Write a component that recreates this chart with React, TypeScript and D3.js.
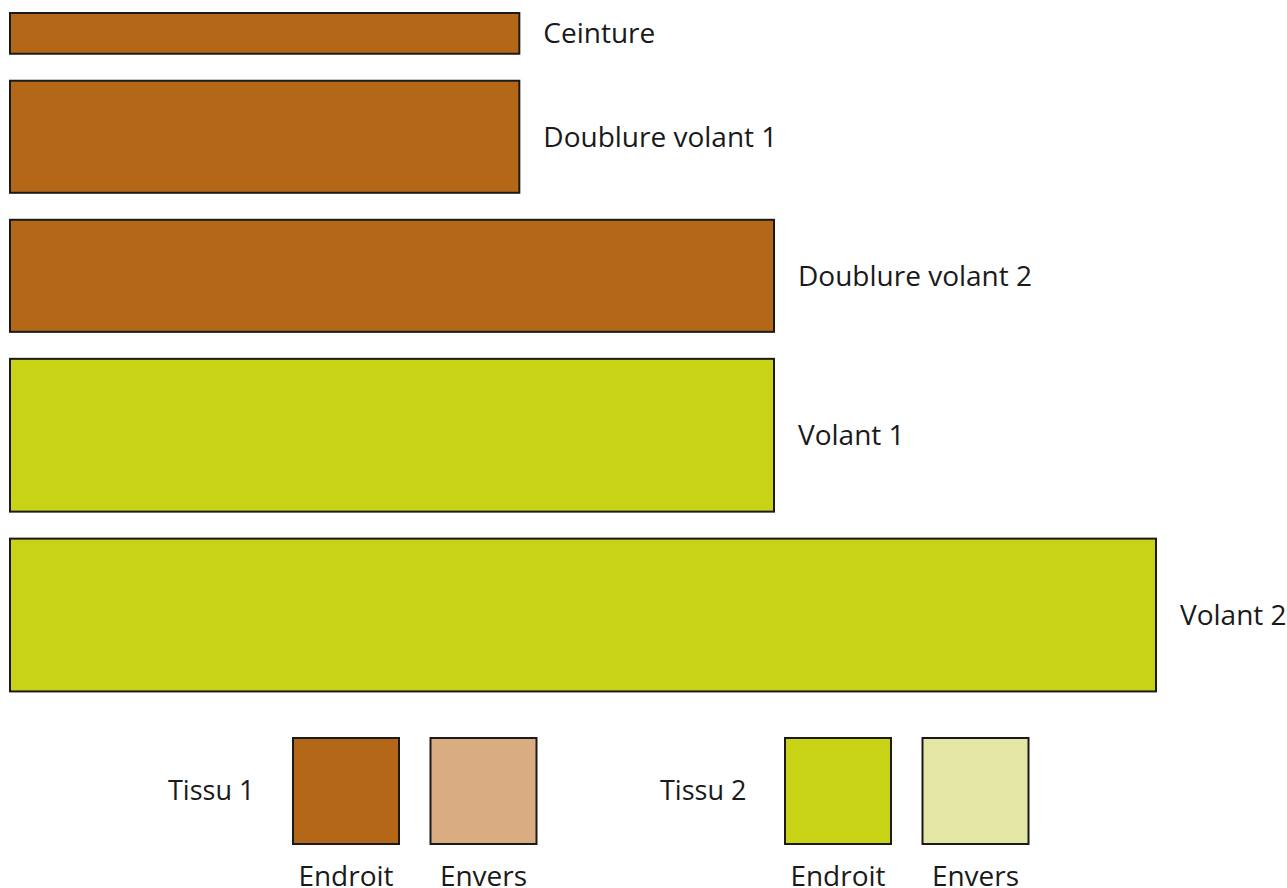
import React from "react";
import * as d3 from "d3";

// pieces of the pattern, lengths and widths in cm
const pieces = ["Ceinture", "Doublure volant 1", "Doublure volant 2", "Volant 1", "Volant 2"];
const lengths = [100, 100, 150, 150, 225];
const widths = [8, 22, 22, 30, 30];
const fabric = [1, 1, 1, 2, 2];

// legend
const fabrics = ["Tissu 1", "Tissu 2"];
const sides = ["Endroit", "Envers"];

const colors: Record<number, string[]> = {
    1: ["#B56718", "#D9AD81"],
    2: ["#C8D315", "#E4E6A3"]
};

const W = 1287;
const H = 888;
const GAP = 5.3;

const App = () => {
    const x = d3.scaleLinear().domain([0, 225]).range([10, 1156]);
    const k = (x(1) as number) - (x(0) as number); // px per cm, same for heights

    // stack the pieces from the top
    const tops: number[] = [];
    let y = 13;
    widths.forEach((w) => {
        tops.push(y);
        y += (w + GAP) * k;
    });

    const groupX = d3.scaleLinear().domain([0, 1]).range([293, 785]);
    const sideX = d3.scaleLinear().domain([0, 1]).range([0, 137.5]);
    const sq = 106;

    return (
        <div style={{ position: "absolute", left: 0, top: 0 }}>
            <svg width={W} height={H} style={{ display: "block" }} fontFamily="'Open Sans', sans-serif">
                <rect width={W} height={H} fill="#fff" />
                {pieces.map((p, i) => (
                    <g key={p}>
                        <rect
                            x={x(0)}
                            y={tops[i]}
                            width={x(lengths[i]) - x(0)}
                            height={widths[i] * k}
                            fill={colors[fabric[i]][0]}
                            stroke="#1a1a1a"
                            strokeWidth={2}
                        />
                        <text
                            x={x(lengths[i]) + 24}
                            y={tops[i] + (widths[i] * k) / 2}
                            dy="0.35em"
                            fontSize={28}
                            fill="#1a1a1a"
                        >
                            {p}
                        </text>
                    </g>
                ))}
                {fabrics.map((f, gi) => (
                    <g key={f} transform={`translate(${groupX(gi)},738)`}>
                        <text x={-125} y={sq / 2} dy="0.35em" fontSize={27} fill="#1a1a1a">
                            {f}
                        </text>
                        {sides.map((s, si) => (
                            <g key={s} transform={`translate(${sideX(si)},0)`}>
                                <rect
                                    width={sq}
                                    height={sq}
                                    fill={colors[gi + 1][si]}
                                    stroke="#1a1a1a"
                                    strokeWidth={2}
                                />
                                <text x={sq / 2} y={148} textAnchor="middle" fontSize={28} fill="#1a1a1a">
                                    {s}
                                </text>
                            </g>
                        ))}
                    </g>
                ))}
            </svg>
        </div>
    );
};

export default App;
